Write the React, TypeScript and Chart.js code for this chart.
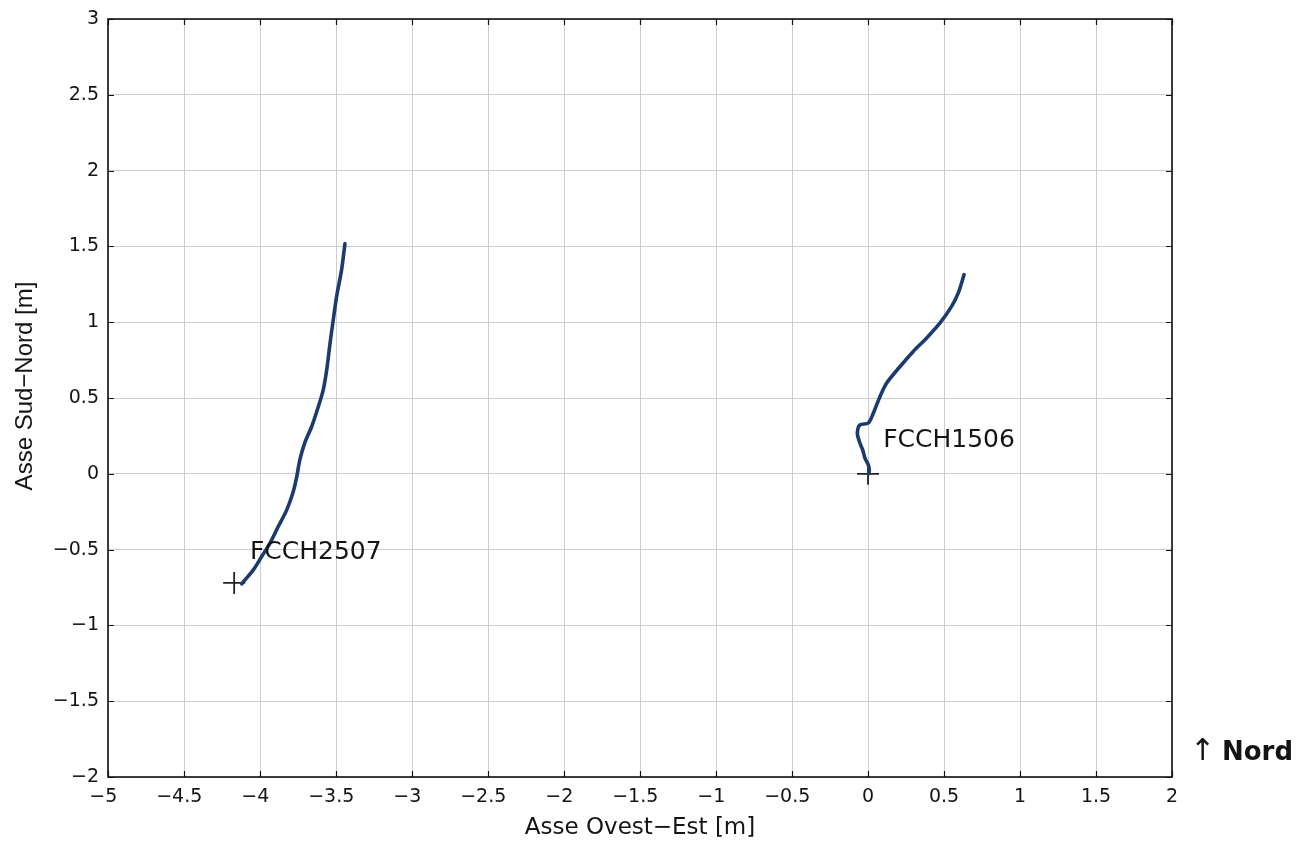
import React, { useEffect, useRef } from "react";
import { Chart, registerables } from "chart.js";

Chart.register(...registerables);

// FCCH2507 trajectory (Asse Ovest-Est, Asse Sud-Nord) [m]
const fcch2507X = [-4.12, -4.099, -4.044, -3.989, -3.934, -3.88, -3.824, -3.784, -3.758, -3.738, -3.706, -3.66, -3.616, -3.584, -3.561, -3.539, -3.518, -3.496, -3.463, -3.441];
const fcch2507Y = [-0.726, -0.7, -0.634, -0.546, -0.457, -0.348, -0.238, -0.127, -0.018, 0.092, 0.203, 0.312, 0.444, 0.554, 0.686, 0.863, 1.016, 1.17, 1.347, 1.518];

// FCCH1506 trajectory
const fcch1506X = [0.005, 0.009, 0.002, -0.02, -0.035, -0.057, -0.07, -0.053, 0.002, 0.035, 0.079, 0.123, 0.211, 0.298, 0.386, 0.474, 0.55, 0.594, 0.632];
const fcch1506Y = [0.0, 0.022, 0.059, 0.104, 0.158, 0.213, 0.269, 0.323, 0.335, 0.4, 0.51, 0.599, 0.708, 0.807, 0.896, 0.995, 1.104, 1.193, 1.314];

// Borehole heads (+ markers)
const headX = [-4.17, 0];
const headY = [-0.72, 0];

// Labels
const labelNames = ["FCCH2507", "FCCH1506"];
const labelX = [-4.066, 0.1];
const labelY = [-0.52, 0.218];

const xTitle = "Asse Ovest\u2212Est [m]";
const yTitle = "Asse Sud\u2212Nord [m]";
const northArrow = "\u2191";
const northText = "Nord";

const xTickMin = -5;
const xTickMax = 2;
const yTickMin = -2;
const yTickMax = 3;
const tickStep = 0.5;

const WIDE = "'DejaVu Sans', 'Liberation Sans', Arial, sans-serif";
const NARROW = "'Liberation Sans', Arial, Helvetica, sans-serif";
const TEXT = "#141414";

const fmt = (v: number | string) => {
  const n = Number(v);
  if (Math.abs(n) < 1e-9) return "0";
  return n < 0 ? "\u2212" + String(Math.abs(n)) : String(n);
};
const fmtX = (v: number | string) => {
  const n = Number(v);
  return n < -1e-9 ? fmt(n) + "\u2002" : fmt(n);
};

const toPts = (xs: number[], ys: number[]) => xs.map((x, i) => ({ x, y: ys[i] }));

const decorPlugin = {
  id: "decor",
  afterDatasetsDraw(chart: any) {
    const { ctx, chartArea, scales } = chart;
    const xs = scales.x;
    const ys = scales.y;
    ctx.save();
    // inner ticks on all four sides
    ctx.strokeStyle = "#111";
    ctx.lineWidth = 1.2;
    const tl = 6;
    for (let v = xTickMin; v <= xTickMax + 1e-9; v += tickStep) {
      const px = Math.round(xs.getPixelForValue(v)) + 0.5;
      ctx.beginPath();
      ctx.moveTo(px, chartArea.bottom);
      ctx.lineTo(px, chartArea.bottom - tl);
      ctx.moveTo(px, chartArea.top);
      ctx.lineTo(px, chartArea.top + tl);
      ctx.stroke();
    }
    for (let v = yTickMin; v <= yTickMax + 1e-9; v += tickStep) {
      const py = Math.round(ys.getPixelForValue(v)) + 0.5;
      ctx.beginPath();
      ctx.moveTo(chartArea.left, py);
      ctx.lineTo(chartArea.left + tl, py);
      ctx.moveTo(chartArea.right, py);
      ctx.lineTo(chartArea.right - tl, py);
      ctx.stroke();
    }
    // box
    ctx.strokeStyle = "#111";
    ctx.lineWidth = 1.6;
    ctx.strokeRect(chartArea.left, chartArea.top, chartArea.right - chartArea.left, chartArea.bottom - chartArea.top);
    // text labels
    ctx.fillStyle = TEXT;
    ctx.font = `25px ${WIDE}`;
    ctx.textAlign = "left";
    ctx.textBaseline = "middle";
    labelNames.forEach((name, i) => {
      ctx.fillText(name, xs.getPixelForValue(labelX[i]), ys.getPixelForValue(labelY[i]));
    });
    // axis titles
    ctx.textAlign = "center";
    ctx.font = `23px ${WIDE}`;
    ctx.fillText(xTitle, (chartArea.left + chartArea.right) / 2, 828);
    ctx.save();
    ctx.translate(25, chartArea.top + (chartArea.bottom - chartArea.top) / 2 - 12);
    ctx.rotate(-Math.PI / 2);
    ctx.font = `24px ${NARROW}`;
    ctx.fillText(yTitle, 0, 0);
    ctx.restore();
    // North indicator
    ctx.textAlign = "left";
    ctx.font = `30px ${WIDE}`;
    ctx.fillText(northArrow, chartArea.right + 18, chartArea.bottom - 25);
    ctx.font = `bold 26px ${WIDE}`;
    ctx.fillText(northText, chartArea.right + 50, chartArea.bottom - 24);
    ctx.restore();
  },
};

export default function App() {
  const ref = useRef<HTMLCanvasElement | null>(null);
  useEffect(() => {
    if (!ref.current) return;
    const lineStyle = {
      showLine: true,
      borderColor: "#1b3b6f",
      borderWidth: 3.6,
      pointRadius: 0,
      tension: 0.3,
      borderCapStyle: "round" as const,
      borderJoinStyle: "round" as const,
    };
    const chart = new Chart(ref.current, {
      type: "scatter",
      data: {
        datasets: [
          { label: "FCCH2507", data: toPts(fcch2507X, fcch2507Y), ...lineStyle },
          { label: "FCCH1506", data: toPts(fcch1506X, fcch1506Y), ...lineStyle },
          {
            label: "heads",
            data: toPts(headX, headY),
            showLine: false,
            pointStyle: "cross",
            pointRadius: 11,
            pointBorderColor: "#222",
            pointBorderWidth: 1.8,
            pointBackgroundColor: "#222",
          },
        ],
      },
      options: {
        animation: false,
        responsive: false,
        maintainAspectRatio: false,
        layout: { padding: { left: 0, top: 19, right: 126, bottom: 0 } },
        plugins: {
          legend: { display: false },
          tooltip: { enabled: false },
        },
        scales: {
          x: {
            type: "linear",
            min: xTickMin,
            max: xTickMax,
            afterFit: (s: any) => {
              s.height = 69;
            },
            ticks: {
              stepSize: tickStep,
              autoSkip: false,
              maxRotation: 0,
              padding: 9,
              color: TEXT,
              font: { family: WIDE, size: 19 },
              callback: (v: any) => fmtX(v),
            },
            grid: { color: "#cdcdcd", lineWidth: 1, drawTicks: false },
            border: { display: false },
          },
          y: {
            type: "linear",
            min: yTickMin,
            max: yTickMax,
            afterFit: (s: any) => {
              s.width = 108;
              s.paddingTop = 0;
              s.paddingBottom = 0;
            },
            ticks: {
              stepSize: tickStep,
              autoSkip: false,
              padding: 9,
              color: TEXT,
              font: { family: WIDE, size: 19 },
              callback: (v: any) => fmt(v),
            },
            grid: { color: "#cdcdcd", lineWidth: 1, drawTicks: false },
            border: { display: false },
          },
        },
      },
      plugins: [decorPlugin],
    });
    return () => chart.destroy();
  }, []);
  return (
    <div style={{ position: "fixed", left: 0, top: 0, width: 1298, height: 846, background: "#fff" }}>
      <canvas ref={ref} width={1298} height={846} style={{ display: "block", width: 1298, height: 846 }} />
    </div>
  );
}
